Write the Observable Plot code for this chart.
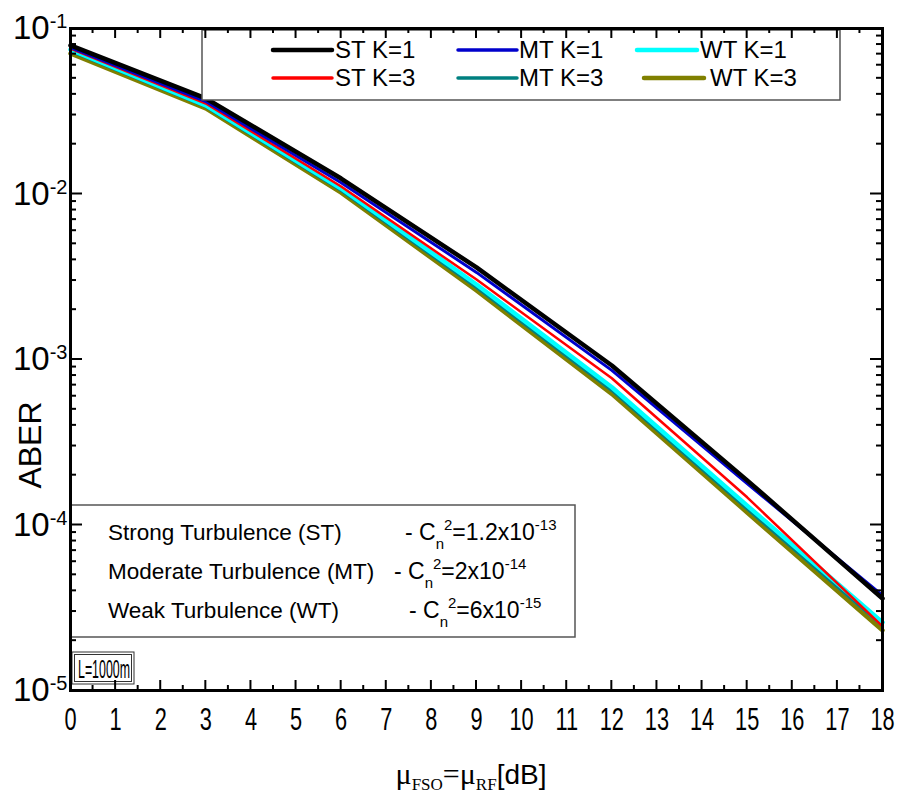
<!DOCTYPE html>
<html><head><meta charset="utf-8">
<script src="https://cdn.jsdelivr.net/npm/d3@7"></script>
<script src="https://cdn.jsdelivr.net/npm/@observablehq/plot@0.6"></script>
<style>
body{margin:0;background:#fff}
svg{font-family:"Liberation Sans",Arial,sans-serif}
</style>
</head><body><div id="chart"></div><script>
// ---- data ----
const snr  = [0, 3, 6, 9, 12, 15, 18];
const stK1 = [0.0790, 0.0378, 0.0124, 0.00360, 0.00092, 0.000186, 0.0000360];
const mtK1 = [0.0767, 0.0362, 0.0117, 0.00336, 0.00086, 0.000178, 0.0000375];
const stK3 = [0.0757, 0.0352, 0.0111, 0.00304, 0.00077, 0.000147, 0.0000244];
const wtK1 = [0.0746, 0.0343, 0.0108, 0.00284, 0.00068, 0.000131, 0.0000258];
const mtK3 = [0.0730, 0.0337, 0.0105, 0.00272, 0.00065, 0.000125, 0.0000246];
const wtK3 = [0.0706, 0.0329, 0.0102, 0.00261, 0.00062, 0.000119, 0.0000231];
const seriesNames  = ["WT K=3", "MT K=3", "WT K=1", "ST K=3", "MT K=1", "ST K=1"];
const seriesValues = [wtK3, mtK3, wtK1, stK3, mtK1, stK1];
const seriesColors = ["#808000", "#008080", "#00ffff", "#ff0000", "#0000cc", "#000000"];
const seriesWidths = [4.5, 3, 4.5, 2.5, 3, 4.5];
const xTicks = [0,1,2,3,4,5,6,7,8,9,10,11,12,13,14,15,16,17,18];
const xMinorTicks = [0.5,1.5,2.5,3.5,4.5,5.5,6.5,7.5,8.5,9.5,10.5,11.5,12.5,13.5,14.5,15.5,16.5,17.5];
const yTicks = [1e-1, 1e-2, 1e-3, 1e-4, 1e-5];
const yMinorTicks = [];
for (const d of [1e-5, 1e-4, 1e-3, 1e-2]) for (const m of [2,3,4,5,6,7,8,9]) yMinorTicks.push(m * d);

const legendRows = [["ST K=1", "MT K=1", "WT K=1"], ["ST K=3", "MT K=3", "WT K=3"]];
const noteRows = [
  ["Strong Turbulence (ST)", "1.2x10", "-13"],
  ["Moderate Turbulence (MT)", "2x10", "-14"],
  ["Weak Turbulence (WT)", "6x10", "-15"]
];
const distanceLabel = "L=1000m";

const rows = seriesNames.flatMap((name, i) =>
  snr.map((x, j) => ({series: name, x, y: seriesValues[i][j]})));

const lineMarks = seriesNames.map((name, i) =>
  Plot.line(rows.filter(r => r.series === name), {
    x: "x", y: "y", stroke: seriesColors[i], strokeWidth: seriesWidths[i],
    strokeLinejoin: "round"
  }));

const plot = Plot.plot({
  width: 901, height: 796,
  marginLeft: 70, marginRight: 19, marginTop: 28, marginBottom: 106,
  x: {domain: [0, 18]},
  y: {type: "log", domain: [1e-5, 1e-1]},
  style: {fontFamily: '"Liberation Sans", Arial, sans-serif', color: "black", background: "white", overflow: "visible"},
  marks: [
    ...lineMarks,
    Plot.axisX({ticks: xTicks, tickSize: 0, tickPadding: 17, label: null, fontSize: 32,
      tickFormat: d => String(d)}),
    Plot.axisY({ticks: yTicks, tickSize: 0, tickPadding: 3, label: null, fontSize: 33,
      tickFormat: d => "10|" + Math.round(Math.log10(d))}),
    Plot.frame({stroke: "black", strokeWidth: 3})
  ]
});

const svg = d3.select(plot);
const X = plot.scale("x"), Y = plot.scale("y");
const fLeft = 70, fRight = 882, fTop = 28, fBottom = 690;

// inward ticks on all four sides
const tg = svg.append("g").attr("stroke", "black").attr("stroke-width", 2);
for (const [vals, len] of [[xTicks, 10], [xMinorTicks, 5]]) {
  for (const v of vals) {
    const px = X.apply(v);
    tg.append("line").attr("x1", px).attr("x2", px).attr("y1", fBottom).attr("y2", fBottom - len);
    tg.append("line").attr("x1", px).attr("x2", px).attr("y1", fTop).attr("y2", fTop + len);
  }
}
for (const [vals, len] of [[yTicks, 12], [yMinorTicks, 6]]) {
  for (const v of vals) {
    const py = Y.apply(v);
    tg.append("line").attr("y1", py).attr("y2", py).attr("x1", fLeft).attr("x2", fLeft + len);
    tg.append("line").attr("y1", py).attr("y2", py).attr("x1", fRight).attr("x2", fRight - len);
  }
}

// superscript y tick labels
svg.selectAll('g[aria-label="y-axis tick label"] text').each(function() {
  const t = d3.select(this);
  const parts = t.text().split("|");
  t.text(null);
  t.append("tspan").text(parts[0]);
  t.append("tspan").attr("dy", "-0.55em").attr("font-size", 20).text(parts[1]);
});

// Y title
svg.append("text")
  .attr("transform", "translate(41,445) rotate(-90)")
  .attr("text-anchor", "middle").attr("font-size", 32).text("ABER");

// X title
const xt = svg.append("text").attr("x", 471).attr("y", 784).attr("text-anchor", "middle").attr("font-size", 28);
const serif = '"Liberation Serif", "Times New Roman", serif';
xt.append("tspan").attr("font-family", serif).attr("font-size", 30).text("\u03bc");
xt.append("tspan").attr("font-family", serif).attr("font-size", 17).attr("dy", 6).text("FSO");
xt.append("tspan").attr("font-family", serif).attr("font-size", 30).attr("dy", -6).text("=\u03bc");
xt.append("tspan").attr("font-family", serif).attr("font-size", 17).attr("dy", 6).text("RF");
xt.append("tspan").attr("dy", -6).text("[dB]");

// Legend
const lg = svg.append("g").attr("text-anchor", "start");
lg.append("rect").attr("x", 202).attr("y", 30).attr("width", 638).attr("height", 70)
  .attr("fill", "white").attr("stroke", "#555").attr("stroke-width", 1.5);
const legendColor = {"ST K=1": "#000000", "MT K=1": "#0000cc", "WT K=1": "#00ffff",
                     "ST K=3": "#ff0000", "MT K=3": "#008080", "WT K=3": "#808000"};
const colX = [[273, 332, 335], [458, 517, 519], [637, 697, 700]];
legendRows.forEach((row, r) => {
  const y = 50 + r * 28;
  row.forEach((name, c) => {
    let [x1, x2, tx] = colX[c];
    if (name === "WT K=3") { x1 += 7; x2 += 7; tx += 10; }
    lg.append("line").attr("x1", x1).attr("x2", x2).attr("y1", y).attr("y2", y)
      .attr("stroke", legendColor[name]).attr("stroke-width", (name === "ST K=1" || name.startsWith("WT")) ? 4.5 : 3.5)
      .attr("stroke-linecap", "round");
    lg.append("text").attr("x", tx).attr("y", y + 8).attr("font-size", 24).text(name);
  });
});

// Turbulence note box
const nb = svg.append("g").attr("text-anchor", "start");
nb.append("rect").attr("x", 70).attr("y", 505).attr("width", 505).attr("height", 132)
  .attr("fill", "white").attr("stroke", "#555").attr("stroke-width", 1.5);
const noteDashX = [405, 394, 409];
noteRows.forEach((row, i) => {
  const y = 540 + i * 39;
  nb.append("text").attr("x", 108).attr("y", y).attr("font-size", 22.5).text(row[0]);
  const t = nb.append("text").attr("x", noteDashX[i]).attr("y", y).attr("font-size", 23);
  t.append("tspan").text("- C");
  t.append("tspan").attr("font-size", 15).attr("dy", 9).text("n");
  t.append("tspan").attr("font-size", 15).attr("dy", -19).text("2");
  t.append("tspan").attr("dy", 10).text("=" + row[1]);
  t.append("tspan").attr("font-size", 15).attr("dy", -10).text(row[2]);
});

// Distance box
const db = svg.append("g").attr("text-anchor", "start");
db.append("rect").attr("x", 72).attr("y", 652).attr("width", 62).attr("height", 32)
  .attr("fill", "white").attr("stroke", "#333").attr("stroke-width", 1);
db.append("rect").attr("x", 74.5).attr("y", 654.5).attr("width", 57).attr("height", 27)
  .attr("fill", "none").attr("stroke", "#333").attr("stroke-width", 1);
const dt = db.append("text").attr("x", 78).attr("y", 678).attr("font-size", 25).text(distanceLabel);

// keep frame and ticks on top
svg.node().appendChild(svg.select('[aria-label="frame"]').node());
svg.node().appendChild(tg.node());

document.getElementById("chart").appendChild(plot);

// condense x tick labels and distance label (narrow font look)
svg.selectAll('g[aria-label="x-axis tick label"] text').each(function() {
  const w = this.getComputedTextLength();
  this.setAttribute("textLength", (w * 0.68).toFixed(1));
  this.setAttribute("lengthAdjust", "spacingAndGlyphs");
});
dt.attr("textLength", 52).attr("lengthAdjust", "spacingAndGlyphs");
</script></body></html>
